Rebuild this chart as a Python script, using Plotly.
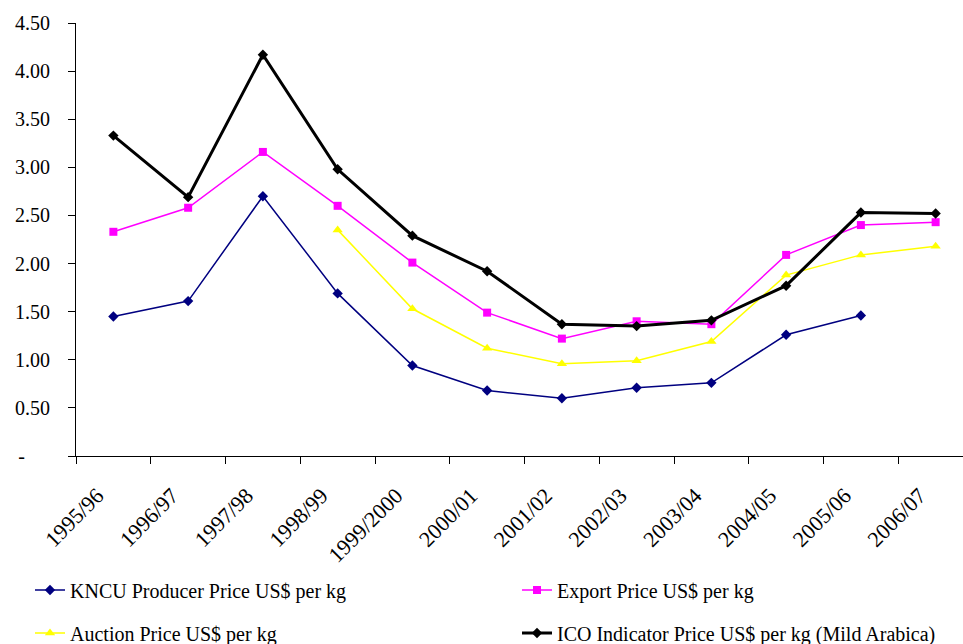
import plotly.graph_objects as go

seasons = ["1995/96", "1996/97", "1997/98", "1998/99", "1999/2000", "2000/01",
           "2001/02", "2002/03", "2003/04", "2004/05", "2005/06", "2006/07"]
kncu = [1.45, 1.61, 2.70, 1.69, 0.94, 0.68, 0.60, 0.71, 0.76, 1.26, 1.46, None]
export = [2.33, 2.58, 3.16, 2.60, 2.01, 1.49, 1.22, 1.40, 1.37, 2.09, 2.40, 2.43]
auction = [None, None, None, 2.35, 1.53, 1.12, 0.96, 0.99, 1.19, 1.88, 2.09, 2.18]
ico = [3.33, 2.69, 4.17, 2.98, 2.29, 1.92, 1.37, 1.35, 1.41, 1.77, 2.53, 2.52]

ytickvals = [0, 0.5, 1.0, 1.5, 2.0, 2.5, 3.0, 3.5, 4.0, 4.5]
yticktext = ["-" + "\u00a0" * 5] + ["%.2f" % v for v in ytickvals[1:]]

FONT = "Liberation Serif"
x = list(range(len(seasons)))

fig = go.Figure()
fig.add_trace(go.Scatter(x=x, y=kncu, mode="lines+markers", name="KNCU Producer Price US$ per kg",
                         line=dict(color="#000080", width=1.5),
                         marker=dict(symbol="diamond", size=8, color="#000080"), legend="legend"))
fig.add_trace(go.Scatter(x=x, y=export, mode="lines+markers", name="Export Price US$ per kg",
                         line=dict(color="#FF00FF", width=1.5),
                         marker=dict(symbol="square", size=8, color="#FF00FF"), legend="legend2"))
fig.add_trace(go.Scatter(x=x, y=auction, mode="lines+markers", name="Auction Price US$ per kg",
                         line=dict(color="#FFFF00", width=1.5),
                         marker=dict(symbol="triangle-up", size=9, color="#FFFF00"), legend="legend3"))
fig.add_trace(go.Scatter(x=x, y=ico, mode="lines+markers", name="ICO Indicator Price US$ per kg (Mild Arabica)",
                         line=dict(color="#000000", width=3),
                         marker=dict(symbol="diamond", size=8, color="#000000"), legend="legend4"))

W, H = 963, 644
def leg(xpx, ypx):
    return dict(xref="container", yref="container", x=xpx / W, y=1 - ypx / H,
                xanchor="left", yanchor="middle", bgcolor="rgba(0,0,0,0)",
                font=dict(family=FONT, size=20, color="black"))

fig.update_layout(
    width=W, height=H, autosize=False,
    margin=dict(l=76, r=0, t=23, b=188, autoexpand=False),
    paper_bgcolor="white", plot_bgcolor="white",
    font=dict(family=FONT, size=20, color="black"),
    showlegend=True,
    legend=leg(30, 590),
    legend2=leg(517, 590),
    legend3=leg(30, 633),
    legend4=leg(517, 633),
    xaxis=dict(
        tickmode="array", tickvals=x, ticktext=seasons,
        range=[-0.5, -0.5 + (W - 76) / 74.75],
        showline=True, linecolor="black", linewidth=1,
        ticks="", showgrid=False, zeroline=False, automargin=False,
        tickangle=-45, tickfont=dict(family=FONT, size=22),
        ticklabelstandoff=17, ticklabelshift=-16,
    ),
    yaxis=dict(
        range=[0, 4.5], tickmode="array", tickvals=ytickvals, ticktext=yticktext,
        showline=True, linecolor="black", linewidth=1,
        ticks="outside", ticklen=7, tickcolor="black", automargin=False,
        showgrid=False, zeroline=False, ticklabelstandoff=14,
        tickfont=dict(family=FONT, size=20),
    ),
)

# category boundary ticks (Excel style) drawn via minor ticks on x-axis
fig.update_xaxes(minor=dict(tickmode="array", tickvals=[i - 0.5 for i in range(len(seasons) + 1)],
                            ticks="outside", ticklen=7, tickcolor="black", showgrid=False))

fig.write_html("out.html")
